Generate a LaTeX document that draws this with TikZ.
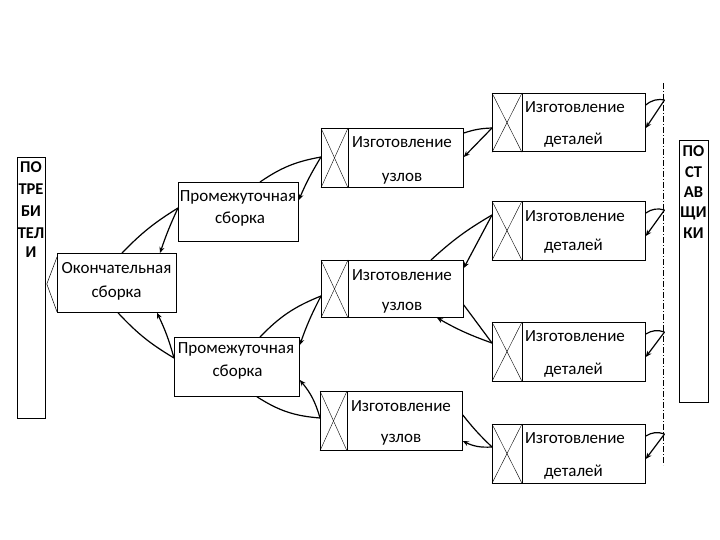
\documentclass[tikz,border=0pt]{standalone}
\usepackage{fontspec}
\setmainfont{Carlito}
\usetikzlibrary{calc,arrows.meta}
\tikzset{
  box/.style={draw, line width=0.8pt, inner sep=0pt, anchor=north west},
  crossln/.style={line width=0.4pt},
  txt/.style={font=\fontsize{17}{18}\selectfont, inner sep=0pt, anchor=base},
  side/.style={font=\bfseries\fontsize{16.5}{18}\selectfont, inner sep=0pt, anchor=base},
  con/.style={line width=1.2pt},
  arr/.style={line width=1.2pt, -{Stealth[length=6pt,width=5pt]}},
  dashdot/.style={line width=0.6pt, dash pattern=on 6pt off 2pt on 1pt off 2pt}
}
\begin{document}
\begin{tikzpicture}[x=1pt,y=-1pt]
\useasboundingbox (0,0) rectangle (720,540);

% side boxes
\node[box, minimum width=28pt, minimum height=261pt] (cons) at (17,157) {};
\node[box, minimum width=29pt, minimum height=262pt] (sup) at (679,140) {};
\foreach \t/\y [count=\i] in {ПО/173,ТРЕ/195,БИ/217,ТЕЛ/238,И/258}
  \node[side] (cons\i) at (31,\y) {\t};
\foreach \t/\y [count=\i] in {ПО/157,СТ/178,АВ/198,ЩИ/218,КИ/238}
  \node[side] (sup\i) at (693.5,\y) {\t};

% assembly boxes
\node[box, minimum width=119pt, minimum height=59pt] (okon) at (57,253) {};
\node[txt] (okona) at (116.5,273) {Окончательная};
\node[txt] (okonb) at (116.5,297) {сборка};

\node[box, minimum width=120pt, minimum height=59pt] (pr1) at (178,182) {};
\node[txt] (pr1a) at (238,202) {Промежуточная};
\node[txt] (pr1b) at (240,224) {сборка};

\node[box, minimum width=125pt, minimum height=59pt] (pr2) at (174,337) {};
\node[txt] (pr2a) at (236,353) {Промежуточная};
\node[txt] (pr2b) at (237.5,376) {сборка};

% units
\foreach \n/\x/\y/\h/\ya/\yb in {uz1/321/128/59/148/182, uz2/321/260/57/280/310, uz3/320/391/59/411/442}{
  \node[box, minimum width=142pt, minimum height=\h pt] (\n) at (\x,\y) {};
  \draw[crossln] (\n.north west) -- ++(27,0) coordinate (\n d) -- (\n d |- \n.south west);
  \draw[crossln] (\n.north west) -- (\n d |- \n.south west);
  \draw[crossln] (\n.south west) -- (\n d);
  \node[txt] (\n a) at (\x+81,\ya) {Изготовление};
  \node[txt] (\n b) at (\x+81,\yb) {узлов};
}

% details
\foreach \n/\y/\ya/\yb in {d1/93/113/145, d2/201/222/250, d3/322/341/374, d4/424/443/476}{
  \node[box, minimum width=153pt, minimum height=58.5pt] (\n) at (492,\y) {};
  \draw[crossln] (\n.north west) -- ++(30,0) coordinate (\n d) -- (\n d |- \n.south west);
  \draw[crossln] (\n.north west) -- (\n d |- \n.south west);
  \draw[crossln] (\n.south west) -- (\n d);
  \node[txt] (\n a) at (575,\ya) {Изготовление};
  \node[txt] (\n b) at (573.5,\yb) {деталей};
}

% dash-dot border
\coordinate (dtop) at (663,83);
\coordinate (dbot) at (663,465);
\draw[dashdot] (dtop) -- (dbot);

% bracket
\draw[line width=0.5pt] ($(okon.north west)+(0,4)$) -- ($(cons.north east)+(1,127)$) -- ($(okon.south west)+(0,-1)$);

% self loops at supply line
\foreach \n/\s in {d1/100, d2/210, d3/332, d4/434}{
  \coordinate (\n s) at (664.5,\s);
  \draw[con] ($(\n.north east)+(0,12)$) to[bend left=25] (\n s);
  \draw[arr] (\n s) -- ($(\n.north east)+(0,35)$);
}

% details -> units
\draw[con] ($(uz1.north east)+(0,5)$) to[bend left=8] ($(d1.north west)+(0,35)$);
\draw[arr] ($(d1.north west)+(0,35)$) -- ($(uz1.north east)+(0,29)$);

\draw[con] ($(uz2.north west)+(110,0)$) to[bend left=6] ($(d2.north west)+(0,14)$);
\draw[arr] ($(d2.north west)+(0,14)$) -- ($(uz2.north east)+(0,8)$);

\draw[con] ($(uz2.north east)+(0,45)$) -- ($(d3.north west)+(0,21)$);
\draw[arr] ($(d3.north west)+(0,21)$) to[bend left=5] ($(uz2.south west)+(116,0)$);

\draw[con] ($(uz3.north east)+(0,24)$) to[bend right=4] ($(d4.north west)+(0,23)$);
\draw[arr] ($(d4.north west)+(0,23)$) to[bend left=15] ($(uz3.north east)+(0,50)$);

% units -> intermediate assembly
\draw[con] ($(pr1.north west)+(82,0)$) to[bend left=12] ($(uz1.north west)+(0,29)$);
\draw[arr] ($(uz1.north west)+(0,29)$) to[bend right=4] ($(pr1.north east)+(0,18)$);

\draw[con] ($(pr2.north west)+(86,0)$) to[bend left=12] ($(uz2.north west)+(0,36)$);
\draw[arr] ($(uz2.north west)+(0,36)$) to[bend right=4] ($(pr2.north east)+(0,8)$);

\draw[con] ($(pr2.south west)+(83,0)$) to[bend right=14] ($(uz3.north west)+(0,27)$);
\draw[arr] ($(uz3.north west)+(0,27)$) to[bend right=12] ($(pr2.north east)+(0,43)$);

% intermediate -> final assembly
\draw[con] ($(okon.north west)+(65,0)$) to[bend left=7] ($(pr1.north west)+(0,26)$);
\draw[arr] ($(pr1.north west)+(0,26)$) to[bend right=3] ($(okon.north west)+(103,0)$);

\draw[con] ($(okon.south west)+(61,0)$) to[bend right=8] ($(pr2.north west)+(0,21)$);
\draw[arr] ($(pr2.north west)+(0,21)$) to[bend right=5] ($(okon.south west)+(100,0)$);
\end{tikzpicture}
\end{document}
